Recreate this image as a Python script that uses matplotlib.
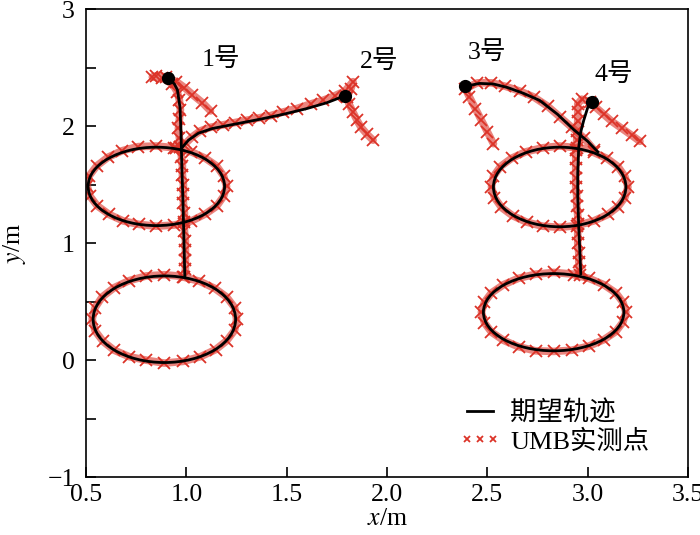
import matplotlib.pyplot as plt
from matplotlib.patches import Ellipse

plt.rcParams['font.family'] = ['Liberation Serif', 'Noto Sans CJK SC']
plt.rcParams['mathtext.fontset'] = 'stix'

RED = '#dc3328'

# desired trajectories: ellipses (centre, width, height)
ell_cx = [0.85, 0.89, 2.86, 2.83]
ell_cy = [1.485, 0.35, 1.48, 0.41]
ell_w = [0.68, 0.71, 0.66, 0.70]
ell_h = [0.67, 0.74, 0.68, 0.66]

# desired trajectories: approach curves from the start points
path1_x = [0.91, 0.94, 0.955, 0.968, 0.973, 0.975, 0.978, 0.982, 0.985, 0.988, 0.99, 0.992]
path1_y = [2.41, 2.36, 2.31, 2.16, 1.94, 1.80, 1.60, 1.40, 1.20, 1.00, 0.85, 0.72]
path2_x = [1.79, 1.70, 1.60, 1.48, 1.37, 1.25, 1.13, 1.06, 1.01, 0.98]
path2_y = [2.26, 2.20, 2.15, 2.10, 2.06, 2.02, 1.98, 1.94, 1.88, 1.82]
path3_x = [2.39, 2.46, 2.53, 2.60, 2.68, 2.76, 2.85, 2.93, 3.00, 3.05]
path3_y = [2.34, 2.365, 2.36, 2.33, 2.28, 2.22, 2.10, 1.97, 1.87, 1.78]
path4_x = [3.02, 3.00, 2.98, 2.965, 2.955, 2.95, 2.95, 2.955, 2.96, 2.965]
path4_y = [2.21, 2.16, 2.05, 1.95, 1.82, 1.60, 1.40, 1.14, 0.95, 0.74]

start_x = [0.91, 1.79, 2.39, 3.02]
start_y = [2.41, 2.26, 2.34, 2.21]
names = ['1号', '2号', '3号', '4号']
name_x = [1.17, 1.96, 2.50, 3.13]
name_y = [2.57, 2.55, 2.63, 2.44]

# UMB measured points
meas1_x = [1.12, 1.08, 1.03, 0.99, 0.95, 0.90, 0.85, 0.83, 0.88, 0.93, 0.955, 0.965, 0.97,
           0.965, 0.96, 0.965, 0.97, 0.975, 0.98, 0.98, 0.985, 0.985, 0.985, 0.99, 0.99,
           0.99, 0.995, 0.995, 0.995, 0.995,
           0.99, 0.89, 0.80, 0.715, 0.64, 0.58, 0.545, 0.53, 0.545, 0.585, 0.64, 0.715,
           0.80, 0.89, 0.985, 1.07, 1.145, 1.20, 1.24, 1.25, 1.24, 1.20, 1.14, 1.065, 0.985]
meas1_y = [2.13, 2.20, 2.27, 2.33, 2.38, 2.42, 2.43, 2.42, 2.41, 2.36, 2.29, 2.22, 2.14,
           2.06, 1.98, 1.90, 1.82, 1.74, 1.66, 1.58, 1.50, 1.42, 1.34, 1.26, 1.18,
           1.10, 1.02, 0.94, 0.86, 0.78,
           0.715, 0.73, 0.72, 0.68, 0.62, 0.54, 0.45, 0.35, 0.25, 0.16, 0.085, 0.03,
           0.0, -0.025, -0.01, 0.03, 0.09, 0.165, 0.255, 0.35, 0.45, 0.54, 0.615, 0.675, 0.71]
meas2_x = [1.93, 1.90, 1.87, 1.85, 1.83, 1.81, 1.80, 1.82, 1.83, 1.79, 1.74, 1.68, 1.62,
           1.55, 1.48, 1.42, 1.36, 1.30, 1.24, 1.18, 1.12, 1.07, 1.03, 1.00, 0.97,
           0.94, 0.85, 0.76, 0.68, 0.61, 0.553, 0.515, 0.505, 0.52, 0.555, 0.615, 0.685,
           0.765, 0.85, 0.94, 1.025, 1.095, 1.15, 1.185, 1.20, 1.185, 1.15, 1.095, 1.025, 0.95]
meas2_y = [1.88, 1.93, 1.99, 2.05, 2.12, 2.19, 2.25, 2.32, 2.38, 2.30, 2.26, 2.22, 2.19,
           2.15, 2.12, 2.09, 2.07, 2.05, 2.03, 2.01, 1.99, 1.96, 1.91, 1.86, 1.82,
           1.815, 1.83, 1.825, 1.79, 1.735, 1.66, 1.575, 1.49, 1.40, 1.32, 1.245, 1.19,
           1.16, 1.145, 1.155, 1.19, 1.25, 1.315, 1.40, 1.485, 1.575, 1.66, 1.725, 1.78, 1.81]
meas3_x = [2.53, 2.50, 2.47, 2.44, 2.41, 2.39, 2.45, 2.52, 2.59, 2.66, 2.73, 2.80, 2.86,
           2.92, 2.98, 3.03,
           2.945, 2.86, 2.775, 2.69, 2.62, 2.565, 2.53, 2.52, 2.535, 2.57, 2.625, 2.695,
           2.775, 2.86, 2.945, 3.03, 3.10, 3.15, 3.185, 3.20, 3.185, 3.15, 3.095, 3.03]
meas3_y = [1.85, 1.95, 2.05, 2.15, 2.25, 2.32, 2.37, 2.37, 2.34, 2.30, 2.25, 2.17, 2.08,
           1.99, 1.90, 1.80,
           1.815, 1.83, 1.815, 1.78, 1.725, 1.655, 1.57, 1.48, 1.39, 1.305, 1.235, 1.18,
           1.145, 1.135, 1.15, 1.19, 1.245, 1.31, 1.39, 1.48, 1.57, 1.655, 1.725, 1.775]
meas4_x = [3.26, 3.22, 3.17, 3.12, 3.08, 3.04, 3.01, 2.97, 2.95, 2.95, 2.95, 2.945, 2.945,
           2.94, 2.94, 2.94, 2.94, 2.94, 2.945, 2.945, 2.95, 2.95, 2.95, 2.95, 2.955, 2.955,
           2.96, 2.96, 2.83, 2.74, 2.655, 2.58, 2.52, 2.485, 2.47, 2.485, 2.52, 2.58, 2.655,
           2.74, 2.83, 2.92, 3.005, 3.08, 3.14, 3.175, 3.19, 3.175, 3.14, 3.08, 3.005, 2.93]
meas4_y = [1.87, 1.92, 1.98, 2.04, 2.10, 2.16, 2.21, 2.23, 2.19, 2.12, 2.04, 1.96, 1.88,
           1.80, 1.72, 1.64, 1.56, 1.48, 1.40, 1.32, 1.24, 1.16, 1.08, 1.00, 0.92, 0.84,
           0.76, 0.73, 0.75, 0.735, 0.70, 0.645, 0.575, 0.495, 0.41, 0.32, 0.24, 0.17, 0.115,
           0.08, 0.075, 0.085, 0.12, 0.175, 0.245, 0.325, 0.41, 0.495, 0.575, 0.645, 0.70, 0.73]

fig = plt.figure(figsize=(7, 5.35), dpi=100)
ax = fig.add_axes([0.123, 0.108, 0.860, 0.875])

meas = [(meas1_x, meas1_y), (meas2_x, meas2_y), (meas3_x, meas3_y), (meas4_x, meas4_y)]
for i, (mx, my) in enumerate(meas):
    ax.plot(mx, my, '-', color=RED, lw=5.5, alpha=0.6, solid_capstyle='round', zorder=2)
    ax.plot(mx, my, 'x', color=RED, ms=8, mew=1.3, zorder=2,
            label='UMB实测点' if i == 0 else None)

for i in range(4):
    ax.add_patch(Ellipse((ell_cx[i], ell_cy[i]), ell_w[i], ell_h[i], fill=False,
                         ec='black', lw=2, zorder=3))
ax.plot(path1_x, path1_y, 'k-', lw=2, zorder=3, label='期望轨迹')
ax.plot(path2_x, path2_y, 'k-', lw=2, zorder=3)
ax.plot(path3_x, path3_y, 'k-', lw=2, zorder=3)
ax.plot(path4_x, path4_y, 'k-', lw=2, zorder=3)
ax.plot(start_x, start_y, 'o', color='black', ms=8.5, zorder=4)

for t, x, y in zip(names, name_x, name_y):
    ax.text(x, y, t, fontsize=18.5, ha='center', va='center')

ax.set_xlim(0.5, 3.5)
ax.set_ylim(-1, 3)
ax.set_xticks([0.5, 1.0, 1.5, 2.0, 2.5, 3.0, 3.5])
ax.set_xticklabels(['0.5', '1.0', '1.5', '2.0', '2.5', '3.0', '3.5'])
ax.set_yticks([-1, 0, 1, 2, 3])
ax.set_yticklabels(['\u22121', '0', '1', '2', '3'])
ax.set_yticks([-0.5, 0.5, 1.5, 2.5], minor=True)
ax.tick_params(axis='both', which='both', direction='in', labelsize=18.5, length=7, width=1.2)
ax.tick_params(axis='x', pad=5)
ax.tick_params(axis='y', pad=8)
for s in ax.spines.values():
    s.set_linewidth(1.2)

ax.set_xlabel('$x$/m', fontsize=18.5, labelpad=1)
ax.set_ylabel('$y$/m', fontsize=18.5, labelpad=14)

h, l = ax.get_legend_handles_labels()
ax.legend(h[::-1], l[::-1], loc='lower right', bbox_to_anchor=(0.975, 0.0), frameon=False,
          fontsize=19, numpoints=3, handlelength=1.6, handletextpad=0.35, labelspacing=0.15,
          markerscale=0.6)

fig.savefig('out.png', dpi=100)
